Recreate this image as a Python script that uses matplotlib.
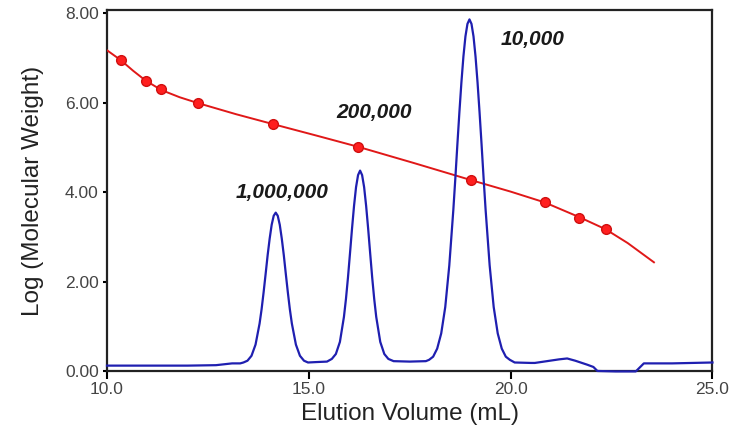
import matplotlib
matplotlib.use("Agg")
import matplotlib.pyplot as plt

# calibration standards (elution volume, log MW)
cal_x = [10.34, 10.96, 11.35, 12.25, 14.11, 16.23, 19.01, 20.84, 21.70, 22.35]
cal_y = [6.95, 6.49, 6.30, 6.00, 5.52, 5.01, 4.27, 3.77, 3.42, 3.17]

# fitted calibration curve
fit_x = [10.0, 10.34, 10.65, 10.96, 11.35, 11.8, 12.25, 13.2, 14.11, 15.2, 16.23,
         17.6, 19.01, 20.0, 20.84, 21.70, 22.35, 22.9, 23.55]
fit_y = [7.17, 6.95, 6.71, 6.49, 6.28, 6.12, 5.99, 5.74, 5.52, 5.26, 5.01,
         4.65, 4.27, 4.01, 3.77, 3.44, 3.17, 2.86, 2.43]

# chromatogram trace
trace_x = [10.0, 11.0, 12.0, 12.7, 12.9, 13.1, 13.3,
           13.38, 13.48, 13.58, 13.68, 13.78, 13.83, 13.88, 13.93, 13.98, 14.03, 14.08,
           14.13, 14.18, 14.23, 14.28, 14.33, 14.38, 14.43, 14.48, 14.53, 14.58, 14.68,
           14.78, 14.88, 14.98, 15.2, 15.45,
           15.57, 15.67, 15.77, 15.87, 15.92, 15.97, 16.02, 16.07, 16.12, 16.17, 16.22,
           16.27, 16.32, 16.37, 16.42, 16.47, 16.52, 16.57, 16.62, 16.67, 16.77, 16.87,
           16.97, 17.1, 17.5, 17.9,
           17.98, 18.08, 18.18, 18.28, 18.38, 18.48, 18.58, 18.63, 18.68, 18.73, 18.78,
           18.83, 18.88, 18.93, 18.98, 19.03, 19.08, 19.13, 19.18, 19.23, 19.28, 19.33,
           19.38, 19.48, 19.58, 19.68, 19.78, 19.88, 19.98, 20.1,
           20.5, 20.6, 20.9, 21.2, 21.4, 21.6, 21.9, 22.05, 22.15, 22.6, 23.1, 23.2,
           23.3, 24.0, 24.5, 25.0]
trace_y = [0.12, 0.12, 0.12, 0.13, 0.15, 0.17, 0.17,
           0.19, 0.23, 0.34, 0.59, 1.06, 1.38, 1.76, 2.17, 2.59, 2.96, 3.27,
           3.47, 3.54, 3.47, 3.27, 2.96, 2.59, 2.17, 1.76, 1.38, 1.06, 0.59,
           0.34, 0.23, 0.19, 0.20, 0.21,
           0.27, 0.38, 0.65, 1.21, 1.61, 2.09, 2.63, 3.18, 3.69, 4.11, 4.38,
           4.48, 4.38, 4.11, 3.69, 3.18, 2.63, 2.09, 1.61, 1.21, 0.65, 0.38,
           0.27, 0.22, 0.21, 0.22,
           0.25, 0.32, 0.50, 0.84, 1.43, 2.36, 3.60, 4.31, 5.06, 5.78, 6.45,
           7.03, 7.48, 7.76, 7.86, 7.76, 7.48, 7.03, 6.45, 5.78, 5.06, 4.31,
           3.60, 2.36, 1.43, 0.84, 0.50, 0.32, 0.25, 0.19,
           0.18, 0.18, 0.22, 0.26, 0.28, 0.23, 0.14, 0.09, 0.0, -0.01, -0.01, 0.08,
           0.17, 0.17, 0.18, 0.19]

# peak labels
peak_labels = ["1,000,000", "200,000", "10,000"]
label_x = [14.33, 16.61, 20.54]
label_y = [4.0, 5.77, 7.40]

plt.rcParams['font.family'] = ['Liberation Sans', 'DejaVu Sans']

fig = plt.figure(figsize=(7.42, 4.28), dpi=100)
ax = fig.add_axes([0.1442, 0.1332, 0.8160, 0.8434])

ax.plot(trace_x, trace_y, color='#1f1fb0', lw=1.6, zorder=5, clip_on=False)
ax.plot(fit_x, fit_y, color='#e01818', lw=1.4, zorder=3)
ax.plot(cal_x, cal_y, 'o', color='#ff1f1f', mec='#d01010', ms=7, zorder=4)

for t, x, y in zip(peak_labels, label_x, label_y):
    ax.text(x, y, t, ha='center', va='center', fontsize=15,
            fontweight='bold', fontstyle='italic', color='#1a1a1a')

ax.set_xlim(10, 25)
ax.set_ylim(0, 8.07)
ax.set_xticks([10, 15, 20, 25])
ax.set_xticklabels(["10.0", "15.0", "20.0", "25.0"])
ax.set_yticks([0, 2, 4, 6, 8])
ax.set_yticklabels(["0.00", "2.00", "4.00", "6.00", "8.00"])

ax.tick_params(axis='x', length=6, width=1.5, labelsize=12.5, labelcolor='#444444', pad=2)
ax.tick_params(axis='y', length=3, width=1.5, labelsize=12.5, labelcolor='#444444', pad=3)
for s in ax.spines.values():
    s.set_linewidth(1.6)
    s.set_color('#222222')

ax.set_xlabel("Elution Volume (mL)", fontsize=17.5, color='#222222', labelpad=4)
ax.set_ylabel("Log (Molecular Weight)", fontsize=17.5, color='#222222', labelpad=15)

fig.savefig("out.png", dpi=100)
